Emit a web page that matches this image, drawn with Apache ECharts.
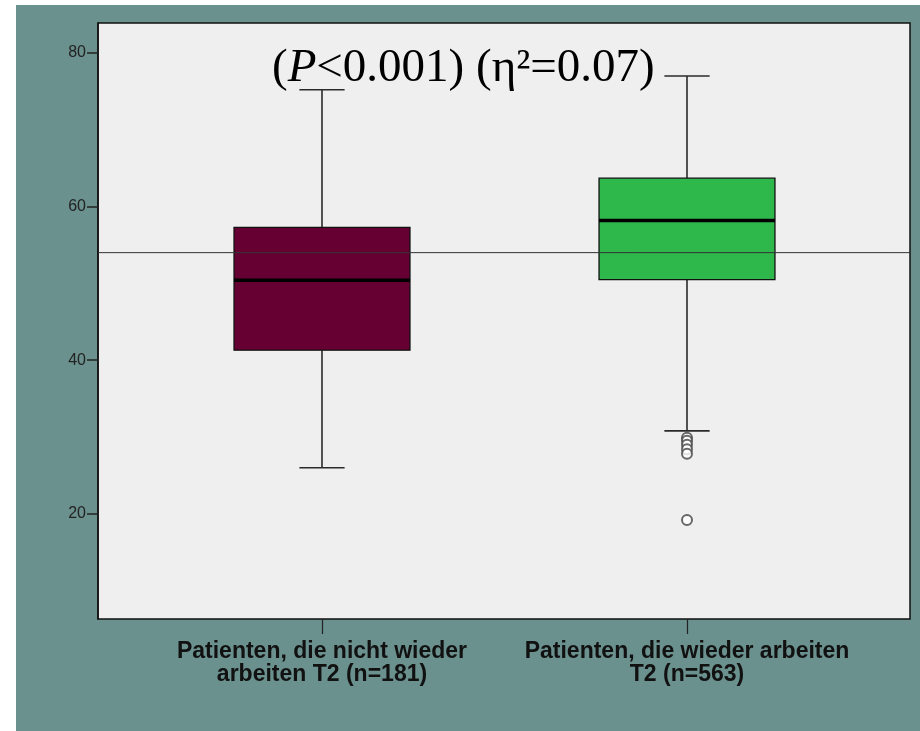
<!DOCTYPE html>
<html>
<head>
<meta charset="utf-8">
<script src="https://cdn.jsdelivr.net/npm/echarts@6/dist/echarts.min.js"></script>
<style>
  html, body { margin: 0; padding: 0; background: #ffffff; }
  #chart { width: 920px; height: 731px; }
</style>
</head>
<body>
<div id="chart"></div>
<script>
// Group labels along the x axis
const categories = [
  'Patienten, die nicht wieder\narbeiten T2 (n=181)',
  'Patienten, die wieder arbeiten\nT2 (n=563)'
];
// Five-number summary for each group
const whiskerLow  = [26.0, 30.8];
const quartile1   = [41.3, 50.5];
const medians     = [50.4, 58.2];
const quartile3   = [57.3, 63.7];
const whiskerHigh = [75.2, 77.0];
const boxColors   = ['#660033', '#2eb84b'];
// Outliers as [group index, value]
const outliers = [[1, 29.9], [1, 29.5], [1, 29.0], [1, 28.4], [1, 27.8], [1, 19.2]];
// Horizontal reference value drawn across the plot
const referenceValue = 54.0;
// Y axis range and tick labels
const yMin = 6.3;
const yMax = 83.9;
const yTicks = [20, 40, 60, 80];

const boxData = categories.map((c, i) => [i, whiskerLow[i], quartile1[i], medians[i], quartile3[i], whiskerHigh[i]]);

function renderBox(params, api) {
  const i = api.value(0);
  const low = api.coord([i, api.value(1)]);
  const q1 = api.coord([i, api.value(2)]);
  const med = api.coord([i, api.value(3)]);
  const q3 = api.coord([i, api.value(4)]);
  const high = api.coord([i, api.value(5)]);
  const band = api.size([1, 0])[0];
  const halfBox = band * 0.241;
  const halfCap = band * 0.062;
  const x = low[0];
  const whisker = { stroke: '#2a2a2a', lineWidth: 1.6 };
  return {
    type: 'group',
    children: [
      { type: 'line', shape: { x1: x, y1: low[1], x2: x, y2: q1[1] }, style: whisker },
      { type: 'line', shape: { x1: x, y1: q3[1], x2: x, y2: high[1] }, style: whisker },
      { type: 'line', shape: { x1: x - halfCap, y1: low[1], x2: x + halfCap, y2: low[1] }, style: whisker },
      { type: 'line', shape: { x1: x - halfCap, y1: high[1], x2: x + halfCap, y2: high[1] }, style: whisker },
      { type: 'rect', shape: { x: x - halfBox, y: q3[1], width: halfBox * 2, height: q1[1] - q3[1] },
        style: { fill: boxColors[i], stroke: '#111', lineWidth: 1.3 } },
      { type: 'line', shape: { x1: x - halfBox, y1: med[1], x2: x + halfBox, y2: med[1] },
        style: { stroke: '#000', lineWidth: 3.5 } }
    ]
  };
}

const chart = echarts.init(document.getElementById('chart'), null, { renderer: 'canvas' });
chart.setOption({
  backgroundColor: '#6a918e',
  animation: false,
  graphic: [
    { type: 'rect', left: 0, top: 0, shape: { width: 16, height: 731 }, style: { fill: '#ffffff' } },
    { type: 'rect', left: 0, top: 0, shape: { width: 920, height: 5 }, style: { fill: '#ffffff' } }
  ],
  title: {
    text: '{n|(}{i|P}{n|<0.001) (η²=0.07)}',
    left: 267,
    top: 40,
    textStyle: {
      fontWeight: 'normal',
      rich: {
        n: { fontFamily: 'Liberation Serif', fontSize: 47, fontWeight: 'normal', color: '#000' },
        i: { fontFamily: 'Liberation Serif', fontSize: 47, fontWeight: 'normal', fontStyle: 'italic', color: '#000' }
      }
    },
    z: 20
  },
  grid: [
    { left: 98, top: 23, width: 812, height: 596, show: true,
      backgroundColor: '#efefef', borderColor: '#111', borderWidth: 1.5 },
    { left: 139.5, top: 23, width: 730, height: 596 }
  ],
  xAxis: [
    { type: 'value', gridIndex: 0, min: 0, max: 1, show: false },
    { type: 'category', gridIndex: 1, data: categories, boundaryGap: true,
      axisLine: { show: false },
      axisTick: { show: true, interval: 0, alignWithLabel: true, length: 15, lineStyle: { color: '#222', width: 1.2 } },
      axisLabel: { interval: 0, margin: 21, fontFamily: 'Liberation Sans', fontWeight: 'bold', fontSize: 23,
        lineHeight: 23, color: '#111' } }
  ],
  yAxis: [
    { type: 'value', gridIndex: 0, min: yMin, max: yMax,
      axisLine: { show: true, lineStyle: { color: '#111', width: 1.5 } },
      axisTick: { show: true, length: 11, customValues: yTicks, lineStyle: { color: '#222', width: 1.5 } },
      axisLabel: { customValues: yTicks, margin: 12, fontFamily: 'Liberation Sans', fontSize: 16, color: '#222' },
      splitLine: { show: false } },
    { type: 'value', gridIndex: 1, min: yMin, max: yMax, show: false }
  ],
  series: [
    { type: 'custom', xAxisIndex: 1, yAxisIndex: 1, renderItem: renderBox, data: boxData,
      encode: { x: 0, y: [1, 2, 3, 4, 5] }, z: 3 },
    { type: 'scatter', xAxisIndex: 1, yAxisIndex: 1, data: outliers, symbol: 'emptyCircle', symbolSize: 10,
      itemStyle: { color: '#444', borderColor: '#444', borderWidth: 1.5 }, z: 4 },
    { type: 'line', xAxisIndex: 0, yAxisIndex: 0, data: [[0, referenceValue], [1, referenceValue]],
      symbol: 'none', lineStyle: { color: '#333', width: 1 }, z: 10 }
  ]
});
</script>
</body>
</html>
